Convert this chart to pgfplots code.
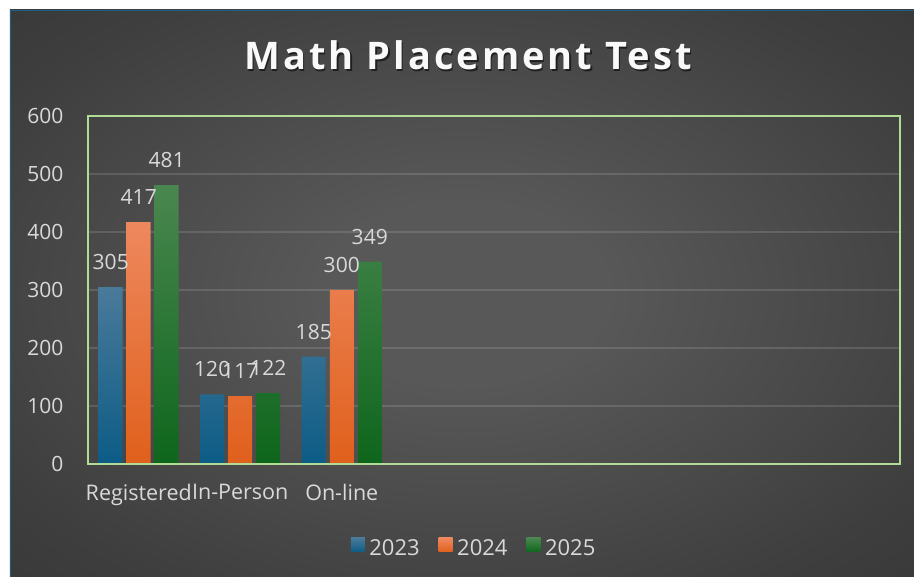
\documentclass[border=0pt]{standalone}
\usepackage{fontspec}
\setmainfont{Open Sans}
\usepackage{pgfplots}
\pgfplotsset{compat=1.18}
\usetikzlibrary{backgrounds}
\definecolor{bgin}{RGB}{88,88,88}
\definecolor{bgmid}{RGB}{62,62,62}
\definecolor{bgout}{RGB}{38,38,38}
\definecolor{frameblue}{RGB}{31,95,139}
\definecolor{axgreen}{RGB}{176,220,150}
\definecolor{txt}{RGB}{217,217,217}
\definecolor{bluetop}{RGB}{74,122,154}
\definecolor{bluebot}{RGB}{12,92,134}
\definecolor{orgtop}{RGB}{238,136,94}
\definecolor{orgmid}{RGB}{242,114,40}
\definecolor{orgbot}{RGB}{224,96,28}
\definecolor{grntop}{RGB}{74,135,80}
\definecolor{grnbot}{RGB}{14,102,28}
\pgfdeclareradialshading{bgshade}{\pgfpoint{0bp}{0bp}}{color(0bp)=(bgin); color(8bp)=(bgin); color(30bp)=(bgmid); color(60bp)=(bgout); color(80bp)=(bgout)}
\newcommand{\lblfont}{\fontsize{21}{21}\selectfont}
\begin{document}
\begin{tikzpicture}[x=1pt,y=1pt]
\begin{axis}[
  scale only axis, width=812pt, height=348pt,
  xmin=0, xmax=8, ymin=0, ymax=600,
  ytick={0,100,...,600},
  xtick={0.5,1.5,2.5}, xticklabels={Registered,In-Person,On-line},
  /pgf/number format/assume math mode=true,
  ybar=4pt, bar width=24pt,
  axis line style={draw=axgreen, line width=1.5pt},
  major tick length=0pt,
  ymajorgrids, grid style={white, opacity=0.13, line width=1.2pt},
  tick label style={text=txt, font=\lblfont},
  yticklabel style={xshift=-21pt},
  xticklabel style={yshift=-17pt, font=\fontsize{21.5}{21.5}\selectfont},
  nodes near coords,
  every node near coord/.append style={text=txt, font=\lblfont, anchor=center, yshift=25pt},
  legend style={at={(axis description cs:0.4755,-0.2414)}, anchor=center,
    draw=none, fill=none, text=txt, font=\fontsize{22}{22}\selectfont, legend columns=3,
    /tikz/every odd column/.append style={column sep=2.5pt},
    /tikz/every even column/.append style={column sep=17pt}},
  legend image code/.code={\path[#1] (0pt,-4pt) rectangle (14pt,10pt);},
  clip=false,
]
\addplot[draw=none, top color=bluetop, bottom color=bluebot] coordinates {(0.5,305) (1.5,120) (2.5,185)};
\addplot[draw=none, top color=orgtop, middle color=orgmid, bottom color=orgbot] coordinates {(0.5,417) (1.5,117) (2.5,300)};
\addplot[draw=none, top color=grntop, bottom color=grnbot] coordinates {(0.5,481) (1.5,122) (2.5,349)};
\legend{2023,2024,2025}
\coordinate (O) at (rel axis cs:0,0);
\draw[axgreen, line width=1.5pt] (rel axis cs:0,0) rectangle (rel axis cs:1,1);
\end{axis}
\pgfresetboundingbox
\begin{scope}[shift={(O)}, xshift=-88pt, yshift=-113pt]
\path[use as bounding box] (0,0) rectangle (914,577);
\begin{scope}[on background layer]
\fill[white] (0,0) rectangle (914,577);
\shade[shading=bgshade] (10,0) rectangle (914,567);
\draw[frameblue, line width=1.5pt] (10.5,0) -- (10.5,566.5) -- (914,566.5);
\end{scope}
\node[anchor=base, inner sep=0, text=black, opacity=0.55] at (469.5,505.5)
  {\fontsize{38}{38}\selectfont\bfseries\addfontfeature{LetterSpace=8}Math Placement Test};
\node[anchor=base, inner sep=0, text=white!95!gray] at (468,507)
  {\fontsize{38}{38}\selectfont\bfseries\addfontfeature{LetterSpace=8}Math Placement Test};
\end{scope}
\end{tikzpicture}
\end{document}
